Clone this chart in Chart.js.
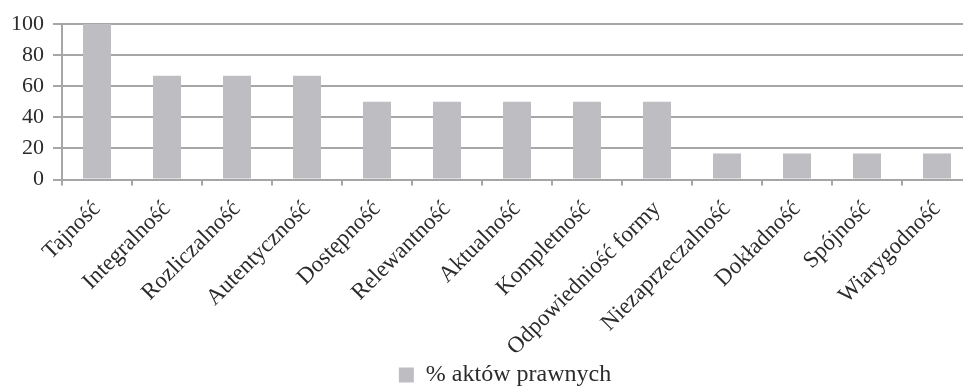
<!DOCTYPE html>
<html>
<head>
<meta charset="utf-8">
<script src="https://cdn.jsdelivr.net/npm/chart.js@4/dist/chart.umd.min.js"></script>
<style>
  html, body { margin: 0; padding: 0; background: #fff; overflow: hidden; width: 963px; height: 386px; }
  #wrap { position: absolute; left: 0; top: 0; width: 1010px; height: 386px; }
</style>
</head>
<body>
<div id="wrap"><canvas id="c" width="1010" height="386"></canvas></div>
<script>
// Cechy informacji wskazywane w aktach prawnych
const categories = [
  'Tajność', 'Integralność', 'Rozliczalność', 'Autentyczność', 'Dostępność',
  'Relewantność', 'Aktualność', 'Kompletność', 'Odpowiedniość formy',
  'Niezaprzeczalność', 'Dokładność', 'Spójność', 'Wiarygodność'
];
const percentOfActs = [100, 66.7, 66.7, 66.7, 50, 50, 50, 50, 50, 16.7, 16.7, 16.7, 16.7];
const seriesLabel = '% aktów prawnych';
const yTicks = [0, 20, 40, 60, 80, 100];

const FONT = 'Liberation Serif';
const TEXT = '#2b2b2b';
const GRID = '#a6a6a6';

new Chart(document.getElementById('c'), {
  type: 'bar',
  data: {
    labels: categories,
    datasets: [{
      label: seriesLabel,
      data: percentOfActs,
      backgroundColor: '#bebec2',
      borderWidth: 0,
      categoryPercentage: 1,
      barPercentage: 0.4
    }]
  },
  options: {
    responsive: false,
    devicePixelRatio: 1,
    animation: false,
    layout: { padding: { left: 2, right: 38, top: 24, bottom: -11 } },
    plugins: {
      tooltip: { enabled: false },
      legend: {
        position: 'bottom',
        fullSize: false,
        labels: {
          color: TEXT,
          font: { family: FONT, size: 24 },
          boxWidth: 15,
          boxHeight: 15,
          padding: 2,
          // trailing em space keeps the legend entry a little left of the plot centre
          generateLabels: chart =>
            Chart.defaults.plugins.legend.labels.generateLabels(chart)
              .map(item => ({ ...item, text: item.text + '\u2003' }))
        }
      }
    },
    scales: {
      x: {
        // slanted labels may run a little into the legend band
        afterFit: scale => { scale.height -= 5; },
        grid: {
          offset: true,
          drawOnChartArea: false,
          drawTicks: true,
          tickLength: 6,
          color: GRID,
          lineWidth: 2
        },
        border: { color: GRID, width: 2 },
        ticks: {
          color: TEXT,
          font: { family: FONT, size: 23 },
          minRotation: 45,
          maxRotation: 45,
          autoSkip: false,
          padding: 10
        }
      },
      y: {
        min: 0,
        max: 100,
        afterBuildTicks: axis => { axis.ticks = yTicks.map(v => ({ value: v })); },
        grid: { color: GRID, lineWidth: 2, tickLength: 9 },
        border: { color: GRID, width: 2 },
        ticks: {
          color: TEXT,
          font: { family: FONT, size: 22 },
          padding: 9
        }
      }
    }
  }
});
</script>
</body>
</html>
